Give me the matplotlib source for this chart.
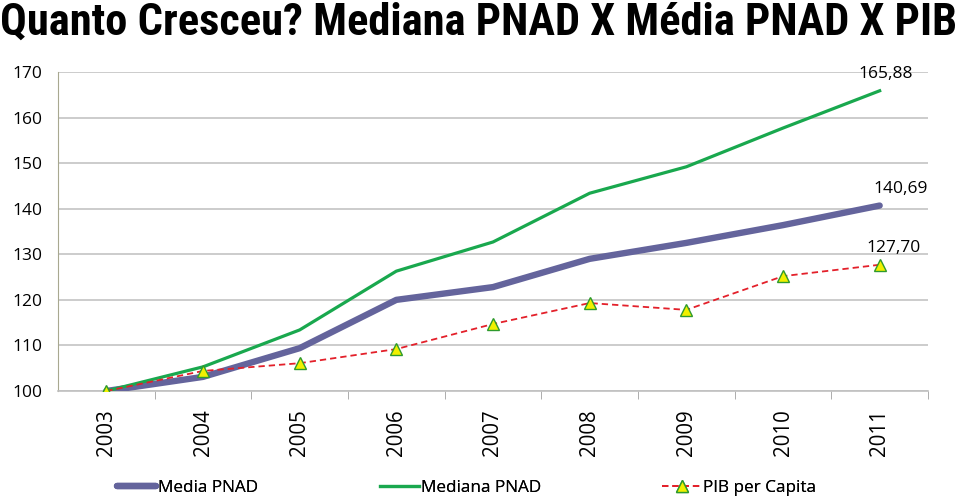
import matplotlib
matplotlib.use("Agg")
import matplotlib.pyplot as plt

years = ["2003", "2004", "2005", "2006", "2007", "2008", "2009", "2010", "2011"]
media_pnad = [100.0, 103.1, 109.4, 120.0, 122.8, 129.0, 132.5, 136.4, 140.69]
mediana_pnad = [100.0, 105.3, 113.4, 126.3, 132.7, 143.4, 149.2, 157.7, 165.88]
pib_capita = [100.0, 104.4, 106.1, 109.2, 114.7, 119.3, 117.8, 125.2, 127.70]
yticks = [100, 110, 120, 130, 140, 150, 160, 170]
title = "Quanto Cresceu? Mediana PNAD X Média PNAD X PIB"

plt.rcParams['font.family'] = ['Open Sans', 'DejaVu Sans']

fig = plt.figure(figsize=(9.59, 4.99), dpi=100)
ax = fig.add_axes([58 / 959, 1 - 391 / 499, (928 - 58) / 959, (391 - 72) / 499])

x = list(range(len(years)))
l1, = ax.plot(x, media_pnad, color="#64649c", lw=4.6, solid_capstyle="round", label="Media PNAD", zorder=3)
l2, = ax.plot(x, mediana_pnad, color="#19a84e", lw=2.3, label="Mediana PNAD", zorder=4)
l3, = ax.plot(x, pib_capita, color="#e3202a", lw=1.3, ls=(0, (3.5, 2.2)), marker="^",
              markersize=8, markerfacecolor="#f0f000", markeredgecolor="#2e9a2e",
              markeredgewidth=1.0, label="PIB per Capita", zorder=5)

ax.set_xlim(-0.5, len(years) - 0.5)
ax.set_ylim(yticks[0], yticks[-1])
ax.set_yticks(yticks)
ax.set_yticklabels([str(v) for v in yticks], fontsize=12.5)
ax.set_xticks(x)
ax.set_xticklabels(years, rotation=90, fontsize=14.8)
ax.tick_params(axis='x', length=0, pad=13)
ax.tick_params(axis='y', length=0, pad=11)
ax.set_xticks([i + 0.5 for i in range(len(years))], minor=True)
ax.tick_params(axis='x', which='minor', length=6, color="#a0a0a0", direction='out')

ax.grid(axis='y', color="#c4c4c4", lw=1.2)
ax.set_axisbelow(True)
for s in ["top", "right"]:
    ax.spines[s].set_visible(False)
ax.spines["left"].set_color("#a8a890")
ax.spines["bottom"].set_color("#c0c0c0")
ax.spines["bottom"].set_linewidth(1.2)

last = len(years) - 1
label_offsets = [(4, 6), (15, 6.5), (10, 6.5)]
for vals, off in zip((mediana_pnad, media_pnad, pib_capita), label_offsets):
    v = vals[-1]
    ax.annotate(f"{v:.2f}".replace(".", ","), (last, v), xytext=off,
                textcoords="offset points", ha="center", va="bottom", fontsize=12.5)

fig.text(0.0, 0.996, title, ha="left", va="top", fontsize=32, fontweight="bold",
         family=["Roboto Condensed", "Roboto", "DejaVu Sans"])

leg_x = [117 / 959, 380 / 959, 662 / 959]
for h, lx in zip([l1, l2, l3], leg_x):
    lg = fig.legend(handles=[h], loc="center left", bbox_to_anchor=(lx, 1 - 488 / 499),
                    frameon=False, fontsize=12.3, handlelength=2.3, handletextpad=0.1,
                    borderpad=0, borderaxespad=0)
    fig.add_artist(lg)

fig.savefig("out.png", dpi=100)
